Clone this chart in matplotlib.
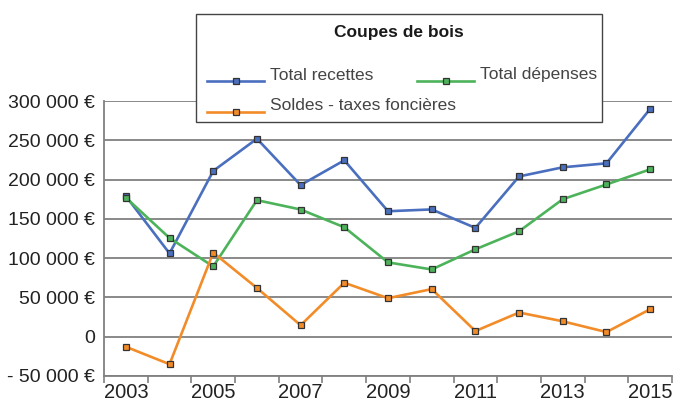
import matplotlib
matplotlib.use("Agg")
import matplotlib.pyplot as plt
from matplotlib.ticker import FixedLocator
from matplotlib.lines import Line2D
from matplotlib.patches import Rectangle

years = [2003, 2004, 2005, 2006, 2007, 2008, 2009, 2010, 2011, 2012, 2013, 2014, 2015]
recettes = [179000, 106000, 211000, 252000, 193000, 224500, 159700, 162000, 138500, 204000, 215600, 220700, 290000]
depenses = [177000, 125600, 89400, 173800, 161900, 139300, 94600, 85600, 111200, 134200, 175000, 193800, 213000]
soldes = [-12800, -35000, 107000, 62000, 14600, 68700, 49000, 60600, 7200, 30800, 19600, 5900, 35000]
ytick_vals = [-50000, 0, 50000, 100000, 150000, 200000, 250000, 300000]
ytick_labels = ["- 50 000 €", "0", "50 000 €", "100 000 €", "150 000 €", "200 000 €", "250 000 €", "300 000 €"]
legend_title = "Coupes de bois"
names = ["Total recettes", "Total dépenses", "Soldes - taxes foncières"]

FONT = ["Liberation Sans", "DejaVu Sans"]
plt.rcParams["font.family"] = FONT

W, H = 676, 401
fig = plt.figure(figsize=(W / 100, H / 100), dpi=100)
ax = fig.add_axes([104 / W, 1 - 376 / H, (672 - 104) / W, (376 - 101) / H])

x = list(range(len(years)))
colors = ["#4a6fbf", "#4db35a", "#f28c28"]
series = [recettes, depenses, soldes]
style = dict(lw=1.9, marker="s", ms=5, mec="#333333", mew=0.9)
for vals, c, n in zip(series, colors, names):
    ax.plot(x, vals, color=c, mfc=c, label=n, zorder=3, **style)

ax.set_xlim(-0.5, len(years) - 0.5)
ax.set_ylim(-50000, 300000)
ax.set_yticks(ytick_vals)
ax.set_yticklabels(ytick_labels, fontsize=14, color="#222222")
ax.yaxis.grid(True, color="#808080", lw=1.3)
ax.set_axisbelow(True)
ax.tick_params(axis="y", length=0, pad=6.5)

ax.set_xticks(x[::2])
ax.set_xticklabels([str(y) for y in years[::2]], fontsize=14.5, color="#222222")
ax.xaxis.set_minor_locator(FixedLocator([i - 0.5 for i in range(len(years) + 1)]))
ax.tick_params(axis="x", which="major", length=0, pad=5)
ax.tick_params(axis="x", which="minor", length=5, width=1.2, color="#808080", direction="out")

for s in ["top", "right"]:
    ax.spines[s].set_visible(False)
for s in ["left", "bottom"]:
    ax.spines[s].set_color("#808080")
    ax.spines[s].set_linewidth(1.3)

# Legend box (drawn manually to reproduce the Excel layout)
def fx(px):
    return px / W

def fy(py):
    return 1 - py / H

fig.patches.append(Rectangle((fx(196), fy(122)), fx(602) - fx(196), fy(14) - fy(122),
                             transform=fig.transFigure, facecolor="white",
                             edgecolor="#444444", lw=1.0, zorder=5))
fig.text(fx(399), fy(33), legend_title, ha="center", va="center",
         fontsize=12.5, fontweight="bold", color="#1a1a1a", zorder=6)

entries = [(names[0], colors[0], 207, 81), (names[1], colors[1], 417, 81),
           (names[2], colors[2], 207, 112)]
for n, c, x0, yl in entries:
    fig.lines.append(Line2D([fx(x0), fx(x0 + 57)], [fy(yl), fy(yl)], transform=fig.transFigure,
                            color=c, lw=1.9, zorder=6))
    fig.lines.append(Line2D([fx(x0 + 29)], [fy(yl)], transform=fig.transFigure,
                            color=c, marker="s", ms=5, mfc=c, mec="#333333", mew=0.9,
                            lw=0, zorder=7))
    fig.text(fx(x0 + 63), fy(yl - 6), n, ha="left", va="center", fontsize=12.5,
             color="#444444", zorder=6)

fig.savefig("out.png", dpi=100)
